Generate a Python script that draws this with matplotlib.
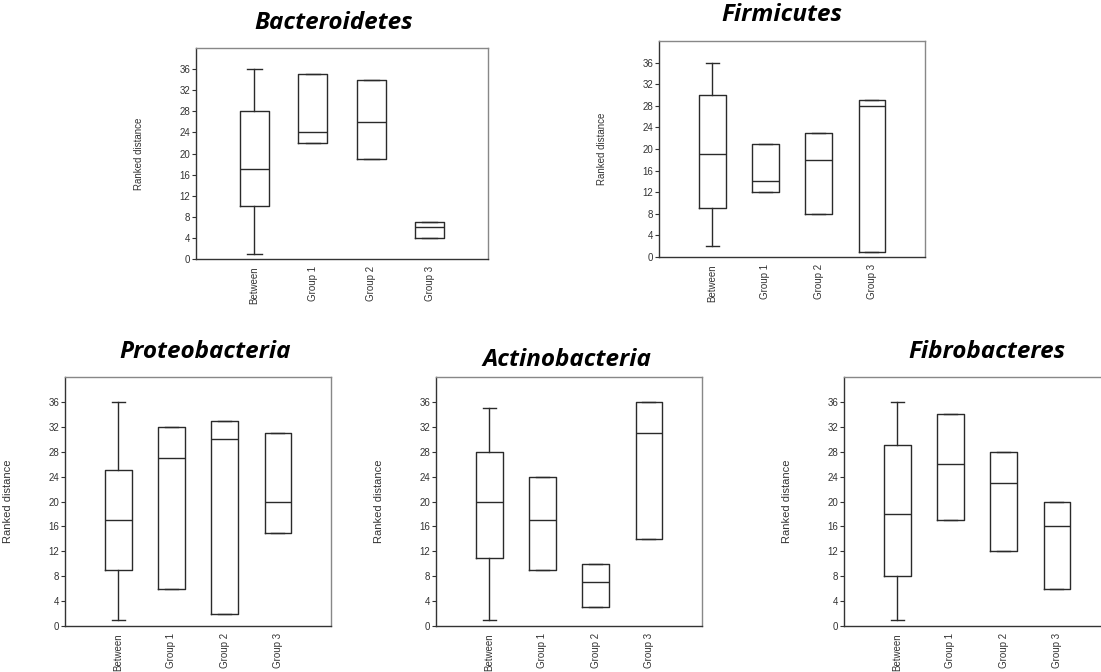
import matplotlib.pyplot as plt

# categorías y resumen de cajas (mínimo, Q1, mediana, Q3, máximo)
grupos = ["Between", "Group 1", "Group 2", "Group 3"]
filos = ["Bacteroidetes", "Firmicutes", "Proteobacteria", "Actinobacteria", "Fibrobacteres"]

bacteroidetes = [(1, 10, 17, 28, 36), (22, 22, 24, 35, 35), (19, 19, 26, 34, 34), (4, 4, 6, 7, 7)]
firmicutes = [(2, 9, 19, 30, 36), (12, 12, 14, 21, 21), (8, 8, 18, 23, 23), (1, 1, 28, 29, 29)]
proteobacteria = [(1, 9, 17, 25, 36), (6, 6, 27, 32, 32), (2, 2, 30, 33, 33), (15, 15, 20, 31, 31)]
actinobacteria = [(1, 11, 20, 28, 35), (9, 9, 17, 24, 24), (3, 3, 7, 10, 10), (14, 14, 31, 36, 36)]
fibrobacteres = [(1, 8, 18, 29, 36), (17, 17, 26, 34, 34), (12, 12, 23, 28, 28), (6, 6, 16, 20, 20)]

datos = [bacteroidetes, firmicutes, proteobacteria, actinobacteria, fibrobacteres]

W, H = 1101, 672
# cajas de ejes en pixeles: izquierda, derecha, arriba, abajo
marcos = [(196, 488, 48, 259), (659, 925, 41, 257),
          (65, 331, 377, 626), (436, 702, 377, 626), (844, 1110, 377, 626)]
# centro del título (x, y) en pixeles
titulos = [(334, 23), (782, 15), (205, 352), (567, 360), (987, 352)]

fig = plt.figure(figsize=(W / 100, H / 100), dpi=100)
color = "#2a2a2a"

for nombre, resumen, (x0, x1, y0, y1), (tx, ty) in zip(filos, datos, marcos, titulos):
    ax = fig.add_axes([x0 / W, 1 - y1 / H, (x1 - x0) / W, (y1 - y0) / H])
    stats = []
    for g, (lo, q1, med, q3, hi) in zip(grupos, resumen):
        stats.append(dict(label=g, whislo=lo, q1=q1, med=med, q3=q3, whishi=hi, fliers=[]))
    props = dict(color=color, linewidth=1.0)
    ax.bxp(stats, positions=[1, 2, 3, 4], widths=0.5, showfliers=False,
           boxprops=props, medianprops=props, whiskerprops=props, capprops=props)
    ax.set_xlim(0, 5)
    ax.set_ylim(0, 40)
    ax.set_yticks(range(0, 37, 4))
    ax.tick_params(axis="y", direction="out", length=3, width=0.8, labelsize=7,
                   colors="#333", pad=1)
    ax.tick_params(axis="x", length=0, labelsize=7, labelrotation=90, colors="#333", pad=5)
    for lab in ax.get_yticklabels() + ax.get_xticklabels():
        lab.set_fontfamily("Liberation Sans")
    for lado in ["left", "bottom"]:
        ax.spines[lado].set_color("#333")
        ax.spines[lado].set_linewidth(1.0)
    for lado in ["top", "right"]:
        ax.spines[lado].set_color("#888")
        ax.spines[lado].set_linewidth(1.0)
    fs_lab = 7 if y0 < 100 else 8
    ax.set_ylabel("Ranked distance", fontsize=fs_lab, family="Liberation Sans", color="#333")
    ax.yaxis.set_label_coords(-52 / (x1 - x0), 0.5)
    fig.text(tx / W, 1 - ty / H, nombre, ha="center", va="center", fontsize=17.5,
             fontweight="bold", fontstyle="italic", family="Open Sans")

fig.savefig("out.png", dpi=100)
